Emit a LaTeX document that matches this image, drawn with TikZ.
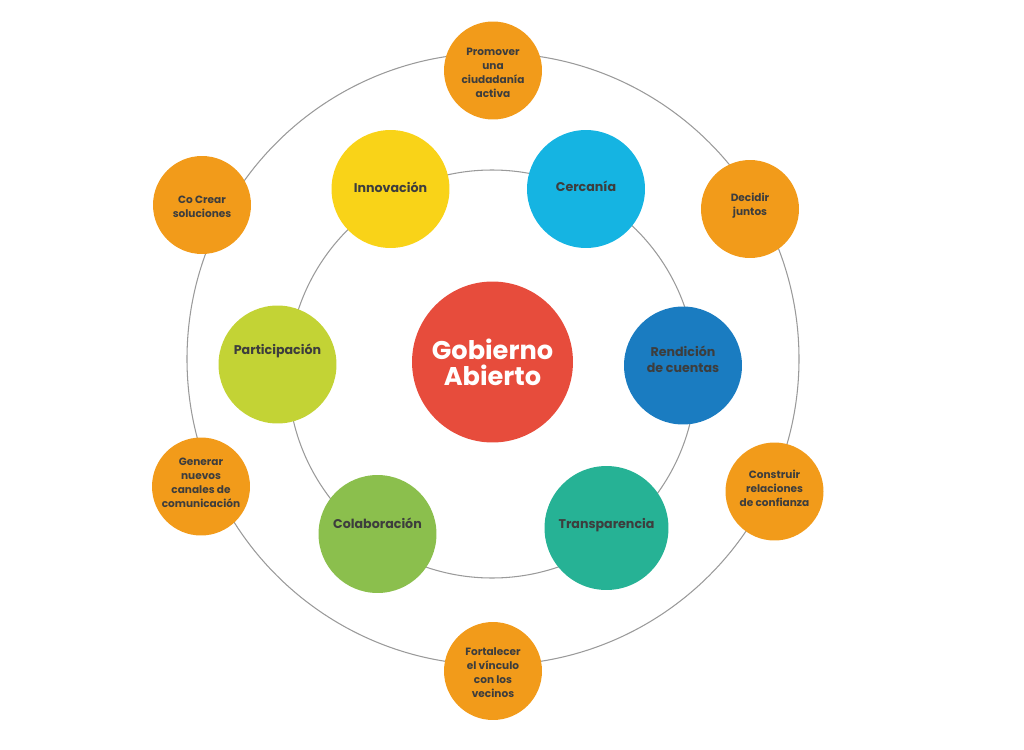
\documentclass[tikz,border=0pt]{standalone}
\usepackage{fontspec}
\setmainfont{Poppins}
\definecolor{naranja}{HTML}{F29B1A}
\definecolor{amarillo}{HTML}{F9D318}
\definecolor{celeste}{HTML}{15B4E2}
\definecolor{azul}{HTML}{1A7CC1}
\definecolor{verdeagua}{HTML}{26B295}
\definecolor{verde}{HTML}{8BBF4D}
\definecolor{lima}{HTML}{C3D335}
\definecolor{rojo}{HTML}{E74C3C}
\definecolor{texto}{HTML}{3D3D3D}
\definecolor{anillo}{HTML}{9A9A9A}

\begin{document}
\begin{tikzpicture}[x=0.02cm, y=-0.02cm,
	ring/.style={line width=0.6pt, color=anillo},
	valor/.style={circle, fill=naranja, minimum size=1.96cm, inner sep=0pt},
	valortxt/.style={align=center, inner sep=0pt, text=texto, font=\bfseries\fontsize{6.0}{8}\selectfont},
	eje/.style={circle, minimum size=2.36cm, inner sep=0pt},
	ejetxt/.style={align=center, inner sep=0pt, text=texto, font=\bfseries\fontsize{7.2}{9}\selectfont},
	nucleo/.style={circle, fill=rojo, minimum size=3.22cm, inner sep=0pt, align=center, text=white, font=\bfseries\fontsize{14.6}{14.6}\selectfont}]
			%%%%% START %%%%%
			
			\useasboundingbox (0, 0) rectangle (1024, 750);
			
			\draw[ring] (493, 359) circle (306);
			\draw[ring] (492, 374) circle (204);
			
			\node[nucleo] (gobierno) at (492.5, 362) {Gobierno\\Abierto};
			
			\node[eje, fill=amarillo, label={[ejetxt, yshift=1.1pt]center:Innovación}] (innovacion) at (390.5, 189) {};
			\node[eje, fill=celeste, label={[ejetxt, yshift=1.7pt]center:Cercanía}] (cercania) at (586, 189) {};
			\node[eje, fill=azul, label={[ejetxt, yshift=3.7pt]center:Rendición\\de cuentas}] (rendicion) at (683, 365.5) {};
			\node[eje, fill=verdeagua, minimum size=2.48cm, label={[ejetxt, yshift=1.7pt]center:Transparencia}] (transparencia) at (606.5, 528) {};
			\node[eje, fill=verde, label={[ejetxt, yshift=6.2pt]center:Colaboración}] (colaboracion) at (377.5, 534) {};
			\node[eje, fill=lima, label={[ejetxt, yshift=7.6pt]center:Participación}] (participacion) at (277.5, 364.5) {};
			
			\node[valor, label={[valortxt, yshift=-1.1pt]center:Promover\\una\\ciudadanía\\activa}] (promover) at (493, 70.5) {};
			\node[valor, label={[valortxt, yshift=1.7pt]center:Decidir\\juntos}] (decidir) at (750, 209) {};
			\node[valor, label={[valortxt, yshift=2pt]center:Construir\\relaciones\\de confianza}] (construir) at (774.5, 491.5) {};
			\node[valor, label={[valortxt, yshift=-1.1pt]center:Fortalecer\\el vínculo\\con los\\vecinos}] (fortalecer) at (493, 671) {};
			\node[valor, label={[valortxt, yshift=2pt]center:Generar\\nuevos\\canales de\\comunicación}] (generar) at (201, 486.5) {};
			\node[valor, label={[valortxt, yshift=-1.1pt]center:Co Crear\\soluciones}] (cocrear) at (202, 205) {};
			
			%%%%% END %%%%%
\end{tikzpicture}
\end{document}
